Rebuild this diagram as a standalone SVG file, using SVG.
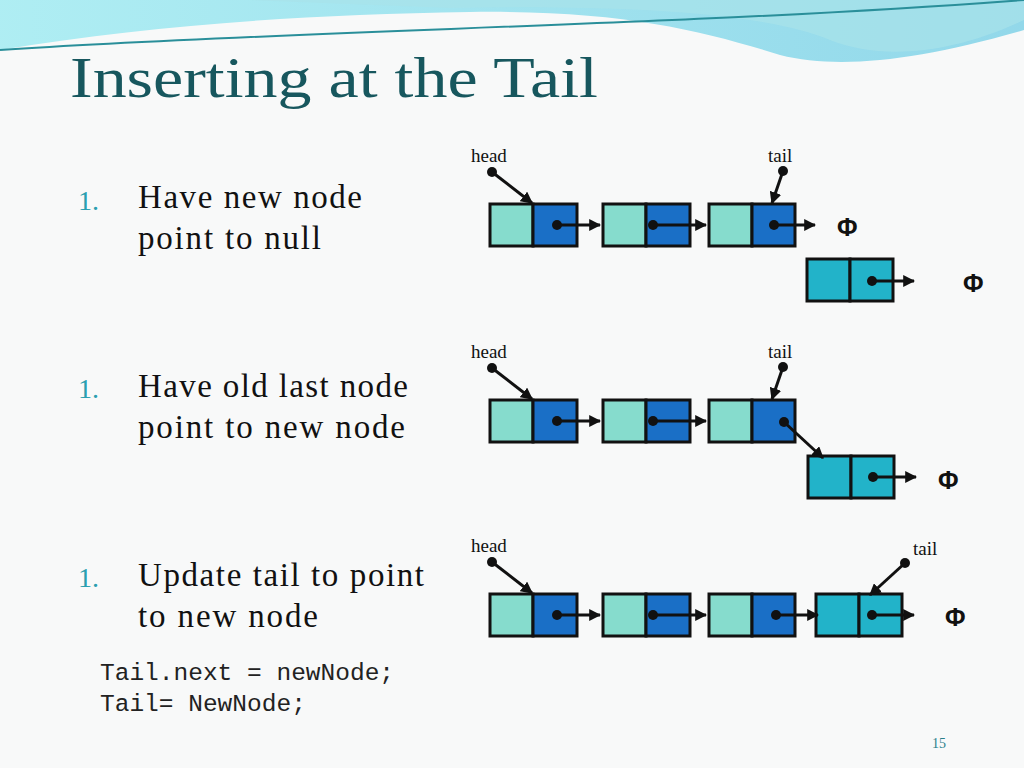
<svg xmlns="http://www.w3.org/2000/svg" width="1024" height="768" viewBox="0 0 1024 768">
<style>
.lbl{font-family:"Liberation Serif",serif;font-size:19px;fill:#111}
.phi{font-family:"Liberation Sans",sans-serif;font-size:25px;font-weight:bold;fill:#111}
.bt{font-family:"Liberation Serif",serif;font-size:33px;fill:#111}
.num{font-family:"Liberation Serif",serif;font-size:28px;fill:#2a9fb0}
.code{font-family:"Liberation Mono",monospace;font-size:24.5px;fill:#222}
.c1{fill:#86dccd;stroke:#111;stroke-width:3}
.c2{fill:#1a6fc6;stroke:#111;stroke-width:3}
.c3{fill:#22b3c9;stroke:#111;stroke-width:3}
.ln{stroke:#111;stroke-width:3;fill:none;marker-end:url(#ah)}
</style>
<defs>
<marker id="ah" viewBox="0 0 10 10" refX="9" refY="5" markerWidth="4" markerHeight="4" orient="auto"><path d="M0,0L10,5L0,10z" fill="#111"/></marker>
<linearGradient id="w" x1="0" x2="1"><stop offset="0" stop-color="#7ee6ef"/><stop offset="1" stop-color="#4fc2e0"/></linearGradient>
</defs>
<rect width="1024" height="768" fill="#f8f9f9"/>
<path d="M0,0H1024V30C920,60 840,70 780,55C700,30 620,10 470,12C300,15 150,25 0,50Z" fill="url(#w)" opacity="0.6"/>
<path d="M250,0H1024V20C950,55 880,60 830,40C760,10 600,5 450,8Z" fill="#a8e3ea" opacity="0.7"/>
<path d="M0,50C300,30 700,25 1024,0" stroke="#2a8f9a" stroke-width="2" fill="none"/>
<text x="70" y="97" font-family="Liberation Serif,serif" font-size="58" fill="#17575e" textLength="528" lengthAdjust="spacingAndGlyphs">Inserting at the Tail</text>
<g id="bullets">
<text x="78" y="210" class="num">1.</text><text x="138" y="208" class="bt" textLength="224">Have new node</text><text x="138" y="249" class="bt" textLength="183">point to null</text>
<text x="78" y="398" class="num">1.</text><text x="138" y="397" class="bt" textLength="270">Have old last node</text><text x="138" y="438" class="bt" textLength="267">point to new node</text>
<text x="78" y="587" class="num">1.</text><text x="138" y="586" class="bt" textLength="286">Update tail to point</text><text x="138" y="627" class="bt" textLength="180">to new node</text>
<text x="100" y="680" class="code">Tail.next = newNode;</text>
<text x="100" y="711" class="code">Tail= NewNode;</text>
</g>
<text x="932" y="748" font-family="Liberation Serif,serif" font-size="14" fill="#2a7f8a">15</text>
<g id="row1">
<text x="471" y="162" class="lbl">head</text><text x="768" y="162" class="lbl">tail</text>
<rect x="490" y="204" width="43" height="42" class="c1"/><rect x="533" y="204" width="44" height="42" class="c2"/>
<rect x="603" y="204" width="43" height="42" class="c1"/><rect x="646" y="204" width="44" height="42" class="c2"/>
<rect x="709" y="204" width="43" height="42" class="c1"/><rect x="752" y="204" width="43" height="42" class="c2"/>
<rect x="807" y="259" width="43" height="42" class="c3"/><rect x="850" y="259" width="43" height="42" class="c3"/>
<text x="837" y="236" class="phi">Φ</text><text x="963" y="292" class="phi">Φ</text>
</g>
<g id="row2">
<text x="471" y="358" class="lbl">head</text><text x="768" y="358" class="lbl">tail</text>
<rect x="490" y="400" width="43" height="42" class="c1"/><rect x="533" y="400" width="44" height="42" class="c2"/>
<rect x="603" y="400" width="43" height="42" class="c1"/><rect x="646" y="400" width="44" height="42" class="c2"/>
<rect x="709" y="400" width="43" height="42" class="c1"/><rect x="752" y="400" width="43" height="42" class="c2"/>
<rect x="808" y="456" width="43" height="42" class="c3"/><rect x="851" y="456" width="43" height="42" class="c3"/>
<text x="938" y="489" class="phi">Φ</text>
</g>
<g id="row3">
<text x="471" y="552" class="lbl">head</text><text x="913" y="555" class="lbl">tail</text>
<rect x="490" y="594" width="43" height="42" class="c1"/><rect x="533" y="594" width="44" height="42" class="c2"/>
<rect x="603" y="594" width="43" height="42" class="c1"/><rect x="646" y="594" width="44" height="42" class="c2"/>
<rect x="709" y="594" width="43" height="42" class="c1"/><rect x="752" y="594" width="43" height="42" class="c2"/>
<rect x="816" y="594" width="43" height="42" class="c3"/><rect x="859" y="594" width="43" height="42" class="c3"/>
<text x="945" y="626" class="phi">Φ</text>
</g>
<g id="connectors" fill="#111">
<circle cx="492" cy="172" r="5"/><path d="M492,172L532,203" class="ln"/>
<circle cx="783" cy="171" r="5"/><path d="M783,171L772,203" class="ln"/>
<circle cx="557" cy="225" r="5"/><path d="M557,225H600" class="ln"/>
<circle cx="653" cy="225" r="5"/><path d="M653,225H706" class="ln"/>
<circle cx="774" cy="225" r="5"/><path d="M774,225H815" class="ln"/>
<circle cx="872" cy="281" r="5"/><path d="M872,281H914" class="ln"/>
<circle cx="492" cy="368" r="5"/><path d="M492,368L532,399" class="ln"/>
<circle cx="783" cy="367" r="5"/><path d="M783,367L772,399" class="ln"/>
<circle cx="557" cy="421" r="5"/><path d="M557,421H600" class="ln"/>
<circle cx="653" cy="421" r="5"/><path d="M653,421H706" class="ln"/>
<circle cx="784" cy="422" r="5"/><path d="M784,422L823,458" class="ln"/>
<circle cx="873" cy="477" r="5"/><path d="M873,477H916" class="ln"/>
<circle cx="492" cy="562" r="5"/><path d="M492,562L532,593" class="ln"/>
<circle cx="905" cy="563" r="5"/><path d="M905,563L870,595" class="ln"/>
<circle cx="557" cy="615" r="5"/><path d="M557,615H600" class="ln"/>
<circle cx="653" cy="615" r="5"/><path d="M653,615H706" class="ln"/>
<circle cx="776" cy="615" r="5"/><path d="M776,615H818" class="ln"/>
<circle cx="872" cy="615" r="5"/><path d="M872,615H914" class="ln"/>
</g>
</svg>
